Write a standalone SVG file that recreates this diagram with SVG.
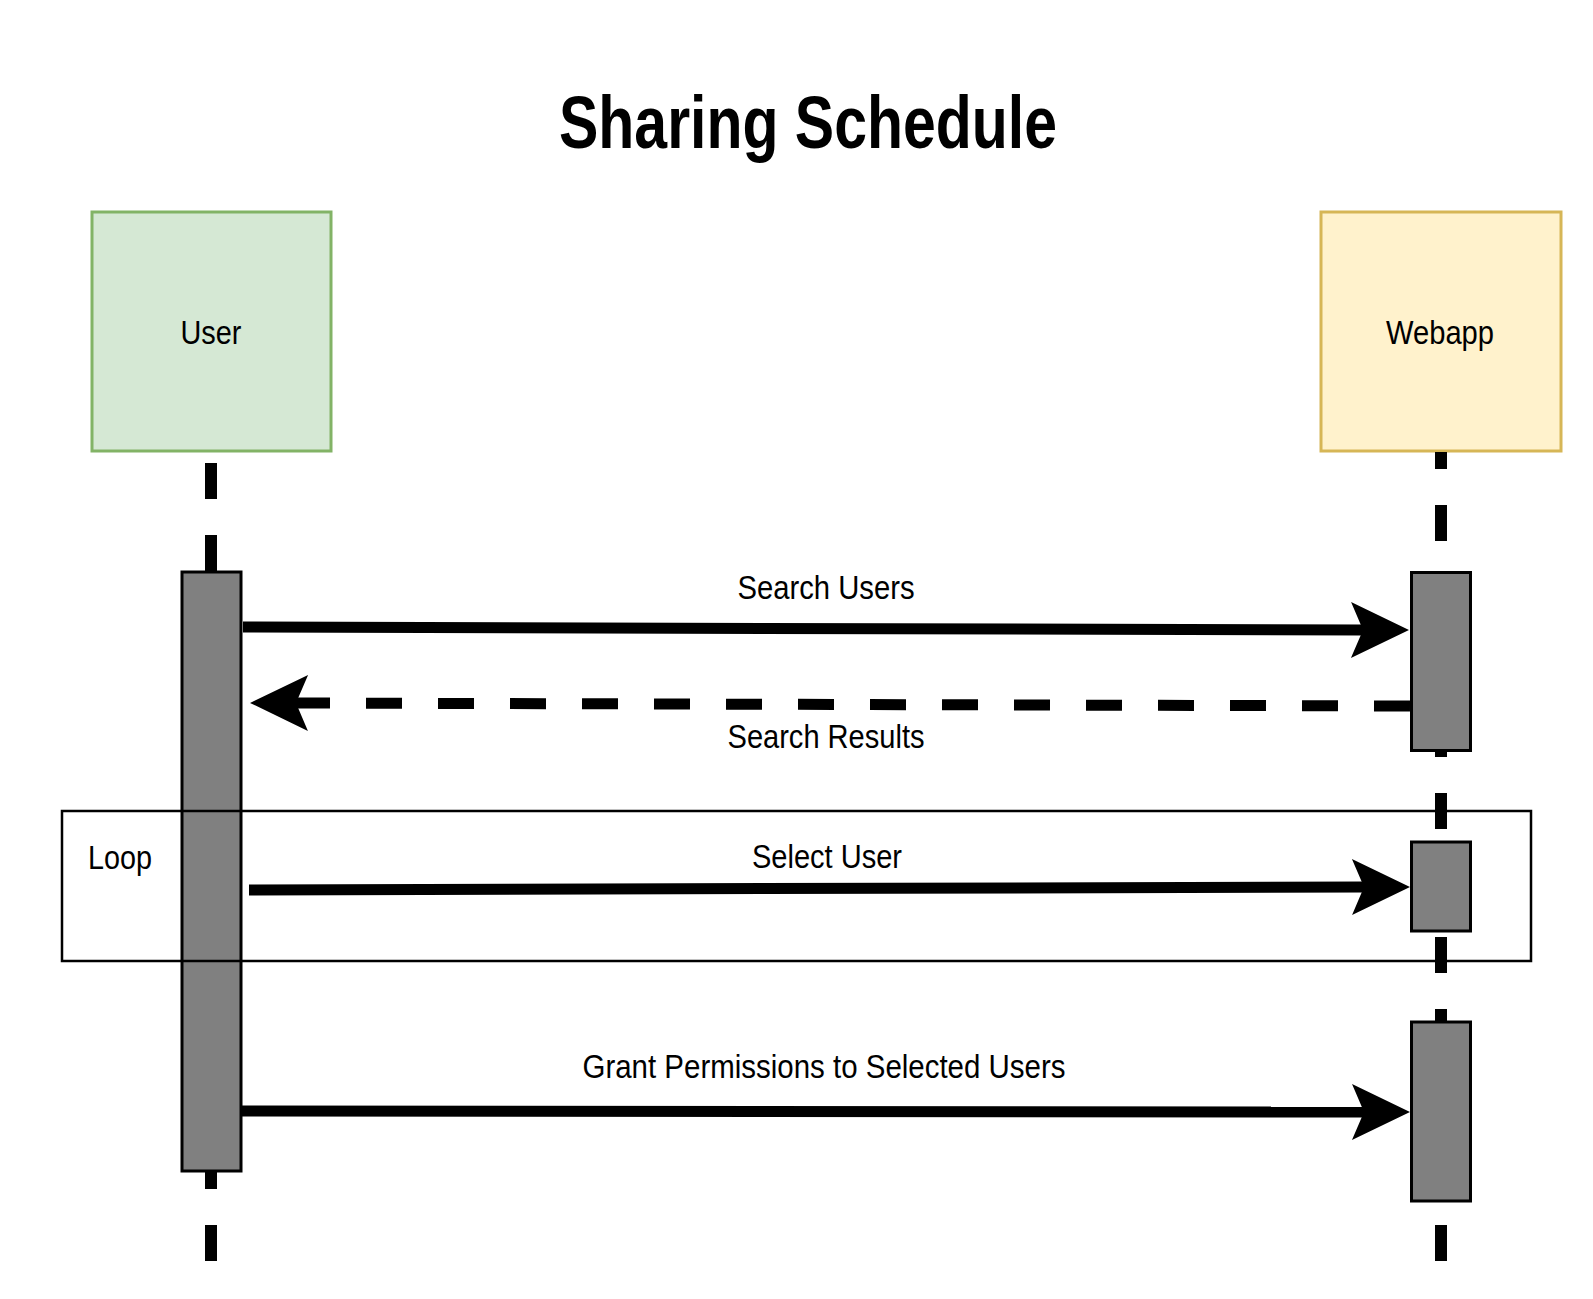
<svg xmlns="http://www.w3.org/2000/svg" width="1593" height="1299" viewBox="0 0 1593 1299">
<defs>
<style>
.t{font-family:"Liberation Sans",Arial,Helvetica,sans-serif;font-size:33px;fill:#000;text-anchor:middle}
.title{font-family:"Liberation Sans",Arial,Helvetica,sans-serif;font-size:75px;font-weight:bold;fill:#000;text-anchor:middle}
.life{stroke:#000;stroke-width:12;stroke-dasharray:36 36;fill:none}
.act{fill:#808080;stroke:#000;stroke-width:3}
.msg{stroke:#000;stroke-width:11;fill:none;marker-end:url(#arr)}
.dash{stroke-dasharray:36 36}
</style>
<marker id="arr" markerUnits="userSpaceOnUse" markerWidth="60" markerHeight="58" refX="12" refY="28" orient="auto" viewBox="0 0 60 58" overflow="visible">
<path d="M0,0 L58,28 L0,56 L12,28 Z" fill="#000"/>
</marker>
</defs>
<rect x="0" y="0" width="1593" height="1299" fill="#fff"/>
<g id="title"><text class="title" x="808" y="148" textLength="498" lengthAdjust="spacingAndGlyphs">Sharing Schedule</text></g>
<g id="user">
<rect x="92" y="212" width="239" height="239" fill="#d5e8d4" stroke="#82b366" stroke-width="3"/>
<text class="t" x="211" y="344" textLength="61" lengthAdjust="spacingAndGlyphs">User</text>
<line class="life" x1="211" y1="463" x2="211" y2="571"/>
<line class="life" x1="211" y1="1172" x2="211" y2="1262" stroke-dashoffset="19"/>
<rect class="act" x="182" y="572" width="59" height="599"/>
</g>
<g id="loop">
<rect x="62" y="811" width="1469" height="150" fill="none" stroke="#000" stroke-width="2.5"/>
<text class="t" x="120" y="869" textLength="64" lengthAdjust="spacingAndGlyphs">Loop</text>
</g>
<g id="webapp">
<rect x="1321" y="212" width="240" height="239" fill="#fff2cc" stroke="#d6b656" stroke-width="3"/>
<text class="t" x="1440" y="344" textLength="108" lengthAdjust="spacingAndGlyphs">Webapp</text>
<line class="life" x1="1441" y1="452" x2="1441" y2="1262" stroke-dashoffset="19"/>
<rect class="act" x="1411.5" y="572.5" width="59" height="178"/>
<rect class="act" x="1411.5" y="842" width="59" height="89"/>
<rect class="act" x="1411.5" y="1022" width="59" height="179"/>
</g>
<g id="connectors">
<path class="msg" d="M243,627 L1363,630"/>
<path class="msg dash" d="M1410,706 L296,703"/>
<path class="msg" d="M249,890 L1364,887"/>
<path class="msg" d="M242,1111 L1364,1112"/>
</g>
<g id="labels">
<text class="t" x="826" y="599" textLength="177" lengthAdjust="spacingAndGlyphs">Search Users</text>
<text class="t" x="826" y="748" textLength="197" lengthAdjust="spacingAndGlyphs">Search Results</text>
<text class="t" x="827" y="868" textLength="150" lengthAdjust="spacingAndGlyphs">Select User</text>
<text class="t" x="824" y="1078" textLength="483" lengthAdjust="spacingAndGlyphs">Grant Permissions to Selected Users</text>
</g>
</svg>
